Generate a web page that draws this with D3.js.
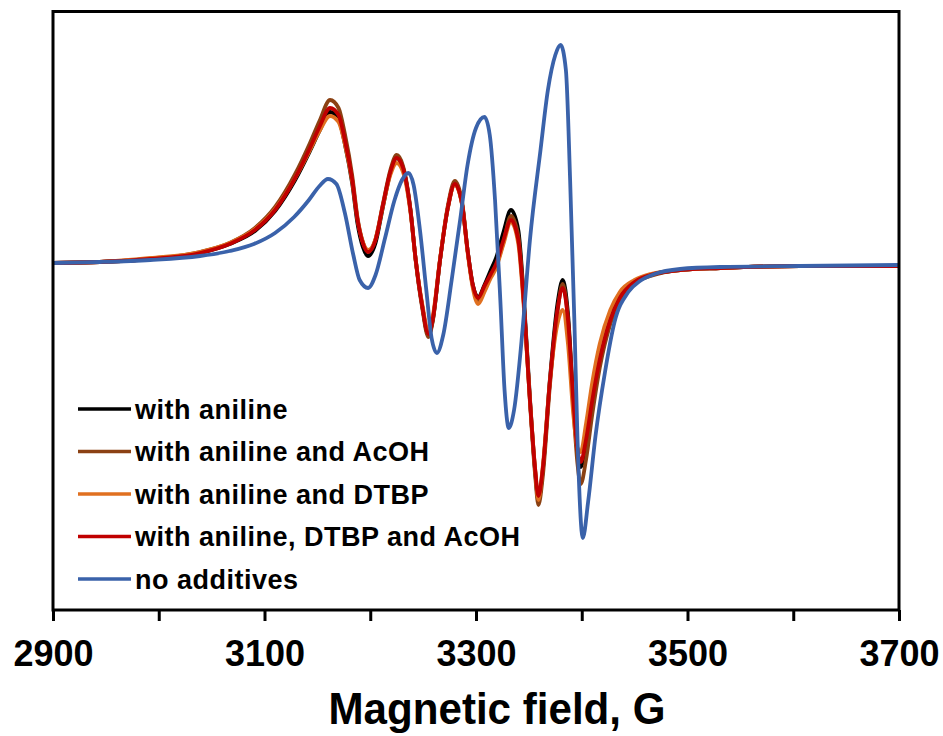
<!DOCTYPE html>
<html>
<head>
<meta charset="utf-8">
<script src="https://cdn.jsdelivr.net/npm/d3@7"></script>
<style>
  html, body { margin: 0; padding: 0; background: #fff; }
  svg { display: block; }
  text { font-family: "Liberation Sans", Arial, sans-serif; font-weight: bold; fill: #000; }
</style>
</head>
<body>
<svg id="chart" width="943" height="736"></svg>
<script>
// ---- Data (magnetic field in G, EPR signal in arbitrary units) ----
const fieldAdd = [2900, 2944, 2992, 3039, 3067, 3091, 3110, 3129, 3143, 3152,
  3162, 3170, 3176, 3183, 3188, 3193, 3198, 3205, 3212, 3219,
  3225, 3231, 3238, 3243, 3249, 3255, 3259, 3266, 3273, 3280,
  3287, 3292, 3297, 3302, 3308, 3314, 3319, 3326, 3333, 3340,
  3345, 3351, 3356, 3359, 3363, 3370, 3377, 3382, 3387, 3392,
  3396, 3399, 3404, 3410, 3417, 3427, 3436, 3450, 3465, 3493,
  3531, 3606, 3700];

const withAniline = [1, 2, 5, 11, 20, 33, 53, 84, 113, 133,
  152, 145, 120, 80, 40, 17, 8, 21, 57, 91,
  106, 96, 54, 4, -41, -71, -57, 4, 54, 80,
  59, 14, -21, -33, -21, -6, 6, 32, 54, 34,
  -30, -134, -208, -236, -208, -114, -40, -16, -50, -136,
  -190, -203, -180, -138, -97, -56, -34, -18, -11, -6,
  -4, -2, -2];

const withAnilineAcOH = [1, 2, 5, 12, 21, 36, 57, 90, 121, 143,
  164, 156, 130, 88, 46, 22, 12, 25, 60, 94,
  109, 98, 55, 3, -43, -73, -58, 4, 56, 83,
  61, 14, -22, -36, -25, -12, -2, 22, 48, 28,
  -34, -138, -212, -241, -214, -120, -48, -20, -56, -142,
  -200, -220, -196, -150, -104, -60, -36, -19, -12, -6,
  -4, -2, -2];

const withAnilineDTBP = [1, 2, 6, 12, 21, 35, 55, 86, 114, 133,
  148, 142, 120, 82, 44, 22, 14, 25, 58, 89,
  101, 92, 52, 4, -39, -66, -53, 5, 54, 79,
  58, 12, -24, -40, -28, -14, -4, 20, 42, 20,
  -40, -136, -206, -236, -204, -116, -60, -46, -80, -150,
  -184, -188, -160, -118, -80, -46, -28, -16, -10, -6,
  -4, -2, -2];

const withAnilineDTBPAcOH = [1, 2, 5, 11, 20, 34, 54, 86, 116, 137,
  156, 149, 124, 84, 44, 21, 12, 24, 59, 92,
  106, 96, 54, 4, -41, -70, -56, 4, 54, 80,
  59, 14, -21, -34, -22, -10, 0, 24, 44, 24,
  -36, -136, -206, -232, -206, -116, -46, -24, -56, -136,
  -186, -198, -176, -136, -96, -56, -34, -18, -11, -6,
  -4, -2, -2];

const fieldNone = [2900, 2944, 2992, 3039, 3067, 3090, 3110, 3128, 3142, 3152,
  3160, 3168, 3176, 3184, 3190, 3198, 3205, 3214, 3223, 3230,
  3236, 3241, 3247, 3253, 3258, 3263, 3269, 3277, 3285, 3292,
  3300, 3308, 3313, 3318, 3323, 3327, 3331, 3336, 3344, 3351,
  3361, 3368, 3375, 3380, 3385, 3389, 3393, 3396, 3401, 3406,
  3413, 3422, 3431, 3444, 3455, 3469, 3493, 3531, 3606, 3700];

const noAdditives = [1, 2, 4, 8, 13, 20, 31, 47, 64, 78,
  85, 80, 51, 9, -16, -24, -11, 26, 64, 84,
  91, 79, 34, -26, -74, -89, -71, -16, 44, 99,
  136, 147, 129, 64, -36, -126, -164, -146, -66, 24,
  114, 174, 209, 219, 194, 84, -56, -176, -274, -238,
  -172, -108, -58, -28, -17, -10, -5, -3, -2, -1];

const seriesNames = ["with aniline", "with aniline and AcOH", "with aniline and DTBP",
  "with aniline, DTBP and AcOH", "no additives"];
const seriesColors = ["#000000", "#8B4113", "#E07020", "#C00000", "#3A62AA"];
const xTicks = [2900, 3000, 3100, 3200, 3300, 3400, 3500, 3600, 3700];
const xTickLabels = [2900, 3100, 3300, 3500, 3700];

// ---- Layout ----
const svg = d3.select("#chart");
const plotLeft = 53, plotRight = 899, plotTop = 11.5, plotBottom = 610;

const x = d3.scaleLinear().domain([2900, 3700]).range([plotLeft, plotRight]);
const y = d3.scaleLinear().domain([-346, 252.5]).range([plotBottom, plotTop]);

const series = [
  { name: seriesNames[0], color: seriesColors[0], xs: fieldAdd, ys: withAniline },
  { name: seriesNames[1], color: seriesColors[1], xs: fieldAdd, ys: withAnilineAcOH },
  { name: seriesNames[2], color: seriesColors[2], xs: fieldAdd, ys: withAnilineDTBP },
  { name: seriesNames[3], color: seriesColors[3], xs: fieldAdd, ys: withAnilineDTBPAcOH },
  { name: seriesNames[4], color: seriesColors[4], xs: fieldNone, ys: noAdditives }
];

const line = d3.line()
  .x(d => x(d[0]))
  .y(d => y(d[1]))
  .curve(d3.curveMonotoneX);

const plot = svg.append("g");
series.forEach(s => {
  plot.append("path")
    .datum(s.xs.map((v, i) => [v, s.ys[i]]))
    .attr("fill", "none")
    .attr("stroke", s.color)
    .attr("stroke-width", 3.8)
    .attr("stroke-linejoin", "round")
    .attr("d", line);
});

// Frame
svg.append("rect")
  .attr("x", plotLeft).attr("y", plotTop)
  .attr("width", plotRight - plotLeft).attr("height", plotBottom - plotTop)
  .attr("fill", "none").attr("stroke", "#000").attr("stroke-width", 3);

// X axis
const xAxis = d3.axisBottom(x)
  .tickValues(xTicks)
  .tickSizeInner(11)
  .tickSizeOuter(0)
  .tickPadding(19)
  .tickFormat(d => xTickLabels.includes(d) ? String(d) : "");
const gx = svg.append("g").attr("transform", `translate(0,${plotBottom})`).call(xAxis);
gx.select(".domain").remove();
gx.selectAll(".tick line").attr("stroke", "#000").attr("stroke-width", 3);
gx.selectAll(".tick text")
  .style("font-family", '"Liberation Sans", Arial, sans-serif')
  .style("font-weight", "bold")
  .style("font-size", "36px")
  .attr("fill", "#000");

// Axis title
svg.append("text")
  .attr("x", 497).attr("y", 724)
  .attr("text-anchor", "middle")
  .attr("textLength", 337)
  .attr("lengthAdjust", "spacingAndGlyphs")
  .style("font-size", "44px")
  .text("Magnetic field, G");

// Legend
const legend = svg.append("g");
series.forEach((s, i) => {
  const cy = 409 + i * 42.5;
  legend.append("line")
    .attr("x1", 78).attr("x2", 131)
    .attr("y1", cy).attr("y2", cy)
    .attr("stroke", s.color).attr("stroke-width", 3.5);
  legend.append("text")
    .attr("x", 135).attr("y", cy + 9.5)
    .style("font-size", "27px")
    .style("letter-spacing", "0.5px")
    .text(s.name);
});
</script>
</body>
</html>
